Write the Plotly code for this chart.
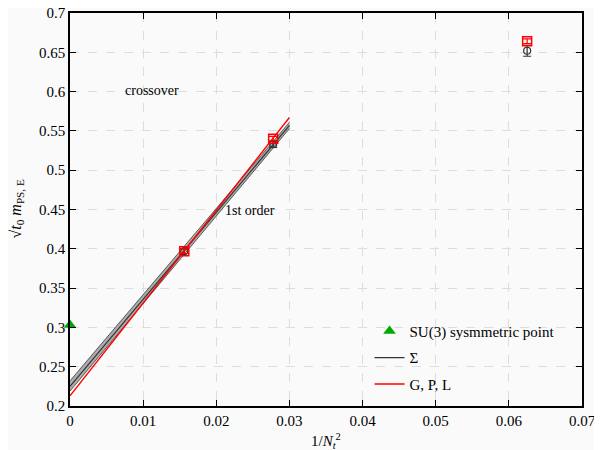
import plotly.graph_objects as go

# Data
x_pts = [1/64, 1/36, 1/16]
sigma_y = [0.397, 0.533, 0.652]
sigma_err = [0.003, 0.004, 0.007]
gpl_y = [0.397, 0.540, 0.664]
gpl_err = [0.003, 0.003, 0.003]

fit_x = [0.0, 0.03]
sigma_fit = [0.225, 0.557]
sigma_lo = [0.219, 0.553]
sigma_hi = [0.232, 0.561]
gpl_fit = [0.213, 0.567]

su3_x = [0.0]
su3_y = [0.303]

x_ticks = [0, 0.01, 0.02, 0.03, 0.04, 0.05, 0.06, 0.07]
x_ticklabels = ["0", "0.01", "0.02", "0.03", "0.04", "0.05", "0.06", "0.07"]
y_ticks = [0.2, 0.25, 0.3, 0.35, 0.4, 0.45, 0.5, 0.55, 0.6, 0.65, 0.7]
y_ticklabels = ["0.2", "0.25", "0.3", "0.35", "0.4", "0.45", "0.5", "0.55", "0.6", "0.65", "0.7"]

font_family = "Liberation Serif, serif"

fig = go.Figure()

# Sigma band
fig.add_trace(go.Scatter(x=fit_x, y=sigma_lo, mode="lines",
                         line=dict(color="rgba(60,60,60,0.8)", width=1),
                         showlegend=False, hoverinfo="skip"))
fig.add_trace(go.Scatter(x=fit_x, y=sigma_hi, mode="lines",
                         line=dict(color="rgba(60,60,60,0.8)", width=1),
                         fill="tonexty", fillcolor="rgba(110,110,110,0.55)",
                         showlegend=False, hoverinfo="skip"))

fig.add_trace(go.Scatter(x=su3_x, y=su3_y, mode="markers",
                         marker=dict(symbol="triangle-up", color="#00aa00", size=11),
                         name="SU(3) sysmmetric point", cliponaxis=False, legendgroup="a"))

fig.add_trace(go.Scatter(x=fit_x, y=sigma_fit, mode="lines",
                         line=dict(color="#333333", width=1.2), name="Σ", legendgroup="b"))
fig.add_trace(go.Scatter(x=fit_x, y=gpl_fit, mode="lines",
                         line=dict(color="red", width=1.4), name="G, P, L", legendgroup="c"))

fig.add_trace(go.Scatter(x=x_pts, y=sigma_y, mode="markers",
                         marker=dict(symbol="circle-open", color="#333333", size=7, line=dict(width=1.2)),
                         error_y=dict(type="data", array=sigma_err, color="#333333", thickness=1.2, width=4),
                         showlegend=False))
fig.add_trace(go.Scatter(x=x_pts, y=gpl_y, mode="markers",
                         marker=dict(symbol="square-open", color="red", size=9, line=dict(width=1.5)),
                         error_y=dict(type="data", array=gpl_err, color="red", thickness=1.2, width=4),
                         showlegend=False))

fig.add_annotation(x=0.0112, y=0.602, text="crossover", showarrow=False,
                   font=dict(family=font_family, size=14, color="black"))
fig.add_annotation(x=0.0246, y=0.449, text="1st order", showarrow=False,
                   font=dict(family=font_family, size=14, color="black"))

# Axis titles
fig.add_annotation(x=0.5, y=0, xref="paper", yref="paper", yanchor="middle",
                   yshift=-35, showarrow=False,
                   text="1/<i>N<sub>t</sub></i><sup>2</sup>",
                   font=dict(family=font_family, size=15, color="black"))
fig.add_annotation(x=0, y=0.5, xref="paper", yref="paper", xanchor="center",
                   xshift=-54, textangle=-90, showarrow=False,
                   text="√<i>t</i><sub>0</sub> <i>m</i><sub>PS, E</sub>",
                   font=dict(family=font_family, size=16, color="black"))

axis_common = dict(showline=True, linecolor="black", linewidth=1.5, mirror="ticks",
                   ticks="inside", ticklen=6, tickcolor="black", automargin=False,
                   ticklabeloverflow="allow",
                   showgrid=True, gridcolor="#dddddd", griddash="dash", gridwidth=1,
                   zeroline=False, tickfont=dict(family=font_family, size=15, color="black"))

fig.update_layout(
    width=602, height=450,
    margin=dict(l=62, r=28, t=5, b=52),
    paper_bgcolor="#fafafa", plot_bgcolor="#fafafa",
    font=dict(family=font_family, size=14, color="black"),
    xaxis=dict(range=[0, 0.07], tickvals=x_ticks, ticktext=x_ticklabels, **axis_common),
    yaxis=dict(range=[0.2, 0.7], tickvals=y_ticks, ticktext=y_ticklabels, **axis_common),
    legend=dict(x=0.585, y=0.232, xanchor="left", yanchor="top", traceorder="grouped",
                bgcolor="rgba(0,0,0,0)", font=dict(family=font_family, size=15),
                tracegroupgap=4),
    showlegend=True,
)

fig.write_html("out.html")
